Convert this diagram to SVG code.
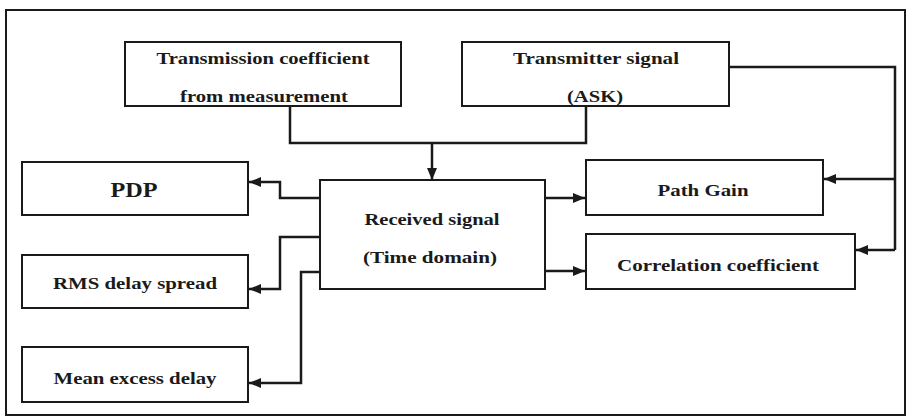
<svg xmlns="http://www.w3.org/2000/svg" width="907" height="417" viewBox="0 0 907 417">
<defs>
<marker id="ah" markerUnits="userSpaceOnUse" markerWidth="14" markerHeight="14" refX="12" refY="7" orient="auto">
<path d="M0,2 L12,7 L0,12 Z" fill="#1a1a1a"/>
</marker>
<style>
.box{fill:#fff;stroke:#1a1a1a;stroke-width:2}
.t{font-family:"Liberation Serif","Times New Roman",serif;font-weight:bold;font-size:17px;fill:#1a1a1a;text-anchor:middle}
.c{fill:none;stroke:#1a1a1a;stroke-width:2.5;stroke-linejoin:miter}
.a{marker-end:url(#ah)}
</style>
</defs>
<rect x="0" y="0" width="907" height="417" fill="#fff"/>
<rect x="6" y="10" width="899" height="405" fill="none" stroke="#1a1a1a" stroke-width="2"/>

<g id="connectors">
<path class="c" d="M290,106 V143 H586 V106"/>
<path class="c a" d="M432,143 V180"/>
<path class="c a" d="M320,198 H280 V182 H249"/>
<path class="c a" d="M320,237 H280 V289 H249"/>
<path class="c a" d="M320,272 H301 V383 H249"/>
<path class="c a" d="M545,198 H585"/>
<path class="c a" d="M545,271 H585"/>
<path class="c" d="M729,67 H895 V250"/>
<path class="c a" d="M895,179 H824"/>
<path class="c a" d="M895,250 H856"/>
</g>

<g id="transmission">
<rect class="box" x="125" y="42" width="276" height="64"/>
<text class="t" x="263" y="64" textLength="213" lengthAdjust="spacingAndGlyphs">Transmission coefficient</text>
<text class="t" x="264" y="102" textLength="168" lengthAdjust="spacingAndGlyphs">from measurement</text>
</g>
<g id="transmitter">
<rect class="box" x="462" y="42" width="267" height="64"/>
<text class="t" x="596" y="64" textLength="166" lengthAdjust="spacingAndGlyphs">Transmitter signal</text>
<text class="t" x="595" y="102" textLength="56" lengthAdjust="spacingAndGlyphs">(ASK)</text>
</g>
<g id="received">
<rect class="box" x="320" y="180" width="225" height="109"/>
<text class="t" x="432" y="225" textLength="135" lengthAdjust="spacingAndGlyphs">Received signal</text>
<text class="t" x="430" y="263" textLength="134" lengthAdjust="spacingAndGlyphs">(Time domain)</text>
</g>
<g id="pdp">
<rect class="box" x="22" y="162" width="226" height="53"/>
<text class="t" x="134" y="197" style="font-size:21px" textLength="47" lengthAdjust="spacingAndGlyphs">PDP</text>
</g>
<g id="rms">
<rect class="box" x="22" y="255" width="226" height="53"/>
<text class="t" x="135" y="289" textLength="164" lengthAdjust="spacingAndGlyphs">RMS delay spread</text>
</g>
<g id="mean">
<rect class="box" x="22" y="347" width="226" height="55"/>
<text class="t" x="135" y="384" textLength="163" lengthAdjust="spacingAndGlyphs">Mean excess delay</text>
</g>
<g id="pathgain">
<rect class="box" x="586" y="160" width="237" height="55"/>
<text class="t" x="703" y="196" textLength="91" lengthAdjust="spacingAndGlyphs">Path Gain</text>
</g>
<g id="correlation">
<rect class="box" x="586" y="234" width="269" height="55"/>
<text class="t" x="718" y="271" textLength="202" lengthAdjust="spacingAndGlyphs">Correlation coefficient</text>
</g>
</svg>
